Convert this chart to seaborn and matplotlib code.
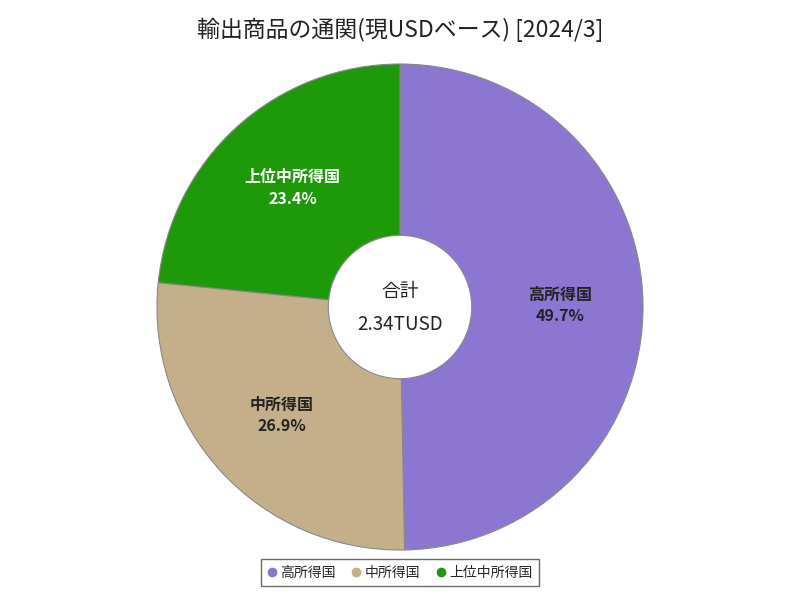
import numpy as np
import matplotlib
matplotlib.use('Agg')
import matplotlib.pyplot as plt
import seaborn as sns
from matplotlib.lines import Line2D

sns.set_theme(style='white')
plt.rcParams['font.family'] = ['Noto Sans CJK JP', 'DejaVu Sans']

# data
labels = ['高所得国', '中所得国', '上位中所得国']
shares = [49.7, 26.9, 23.4]
colors = ['#8b77d1', '#c4af8a', '#1e990a']
text_colors = ['#222222', '#222222', '#ffffff']
total_label = '2.34TUSD'
title = '輸出商品の通関(現USDベース) [2024/3]'

fig = plt.figure(figsize=(8, 6), dpi=100)
ax = fig.add_axes([0.19625, 0.0833, 0.6075, 0.81])

wedges, _ = ax.pie(shares, colors=colors, startangle=90, counterclock=False,
                   radius=1.0, wedgeprops=dict(edgecolor='#888888', linewidth=0.8))
ax.set_xlim(-1, 1)
ax.set_ylim(-1, 1)
ax.set_aspect('equal')
ax.axis('off')

# labels inside slices
for w, lab, s, tc in zip(wedges, labels, shares, text_colors):
    ang = np.deg2rad((w.theta1 + w.theta2) / 2)
    r = 0.66
    ax.text(r * np.cos(ang), r * np.sin(ang), f'{lab}\n{s:.1f}%',
            ha='center', va='center', fontsize=11.5, fontweight='bold',
            color=tc, linespacing=1.4)

# center hole
hole = plt.Circle((0, 0), 0.295, facecolor='white', edgecolor='#888888', linewidth=0.8)
ax.add_patch(hole)
ax.text(0, 0.065, '合計', ha='center', va='center', fontsize=13.5, color='#222222')
ax.text(0, -0.07, total_label, ha='center', va='center', fontsize=13.5, color='#222222')

fig.suptitle(title, y=0.97, fontsize=16.5, color='#222222')

handles = [Line2D([0], [0], marker='o', color='none', markerfacecolor=c,
                  markeredgecolor=c, markersize=6) for c in colors]
leg = fig.legend(handles, labels, loc='lower center', bbox_to_anchor=(0.5, 0.012),
                 ncol=3, fontsize=10, frameon=True, fancybox=False,
                 handlelength=0.6, handletextpad=0.3, columnspacing=1.2,
                 borderpad=0.45)
leg.get_frame().set_edgecolor('#444444')
leg.get_frame().set_linewidth(1.0)

fig.savefig('out.png', dpi=100)
